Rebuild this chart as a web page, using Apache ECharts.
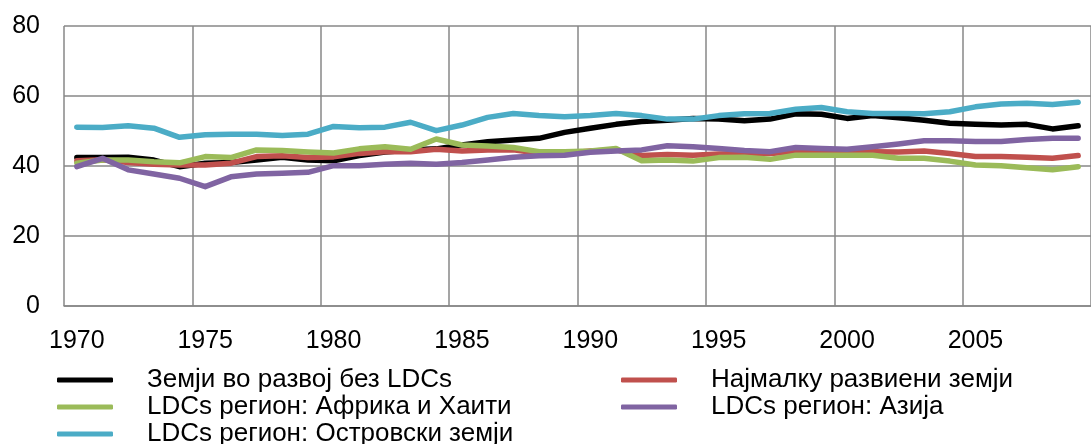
<!DOCTYPE html>
<html>
<head>
<meta charset="utf-8">
<script src="https://cdn.jsdelivr.net/npm/echarts@6/dist/echarts.min.js"></script>
<style>
  html, body { margin: 0; padding: 0; background: #fff; }
  #chart { width: 1091px; height: 444px; }
</style>
</head>
<body>
<div id="chart"></div>
<script>
var years = [];
for (var y = 1970; y <= 2009; y++) years.push(String(y));

var developingNoLdc = [42.4, 42.4, 42.5, 41.7, 39.8, 40.8, 41.0, 41.7, 42.5, 41.7,
  41.5, 43.0, 44.0, 44.6, 44.9, 46.0, 46.9, 47.4, 47.9, 49.6,
  50.8, 51.9, 52.7, 53.1, 53.6, 53.4, 52.9, 53.4, 54.9, 54.8,
  53.6, 54.4, 53.8, 53.1, 52.2, 51.9, 51.7, 51.9, 50.6, 51.5];
var ldc = [41.5, 41.8, 41.0, 40.5, 40.3, 40.3, 40.8, 42.7, 42.9, 42.4,
  42.6, 43.6, 44.1, 44.1, 44.8, 44.3, 44.6, 44.6, 43.6, 43.6,
  44.3, 44.6, 43.0, 43.3, 43.1, 43.4, 43.6, 43.6, 44.1, 44.0,
  44.0, 44.1, 44.0, 44.3, 43.6, 42.7, 42.7, 42.5, 42.2, 43.0];
var ldcAfrica = [40.8, 41.7, 41.7, 41.2, 40.9, 42.7, 42.4, 44.6, 44.4, 44.0,
  43.7, 44.9, 45.5, 44.8, 47.7, 46.0, 45.7, 45.3, 44.1, 44.1,
  44.3, 45.0, 41.5, 41.7, 41.4, 42.4, 42.5, 41.9, 43.1, 43.1,
  43.1, 43.1, 42.2, 42.2, 41.4, 40.3, 40.1, 39.5, 38.9, 39.8];
var ldcAsia = [39.8, 42.2, 38.9, 37.7, 36.5, 34.1, 36.9, 37.7, 37.9, 38.2,
  40.1, 40.1, 40.5, 40.8, 40.5, 41.0, 41.7, 42.5, 42.9, 43.1,
  43.9, 44.3, 44.6, 45.8, 45.5, 45.0, 44.4, 44.1, 45.3, 45.0,
  44.8, 45.5, 46.3, 47.2, 47.2, 47.0, 47.0, 47.6, 47.9, 47.9];
var ldcIslands = [51.1, 51.0, 51.5, 50.8, 48.2, 48.9, 49.1, 49.1, 48.7, 49.1,
  51.3, 50.9, 51.1, 52.5, 50.1, 51.7, 53.9, 55.0, 54.4, 54.1,
  54.4, 55.0, 54.4, 53.4, 53.4, 54.4, 54.9, 55.0, 56.2, 56.7,
  55.5, 55.0, 55.0, 54.9, 55.5, 56.9, 57.7, 57.9, 57.6, 58.2];

var names = ['Земји во развој без LDCs', 'Најмалку развиени земји',
  'LDCs регион: Африка и Хаити', 'LDCs регион: Азија', 'LDCs регион: Островски земји'];
var colors = ['#000000', '#C0504D', '#9BBB59', '#8064A2', '#4BACC6'];
var values = [developingNoLdc, ldc, ldcAfrica, ldcAsia, ldcIslands];

var font = "'Liberation Sans', Arial, sans-serif";
var gridColor = '#878787';

var legendBase = {
  orient: 'vertical',
  icon: 'roundRect',
  itemWidth: 56,
  itemHeight: 5,
  itemGap: 1,
  top: 367,
  height: 100,
  padding: 0,
  selectedMode: false,
  textStyle: { fontFamily: font, fontSize: 26, color: '#000', lineHeight: 26, padding: [0, 0, 0, 29] }
};

var option = {
  animation: false,
  color: colors,
  grid: { left: 64, top: 26, width: 1040, height: 280, containLabel: false },
  legend: [
    Object.assign({}, legendBase, { left: 57, data: [names[0], names[2], names[4]] }),
    Object.assign({}, legendBase, { left: 621, data: [names[1], names[3]] })
  ],
  xAxis: {
    type: 'category',
    data: years,
    boundaryGap: true,
    axisLine: { lineStyle: { color: gridColor, width: 1.5 } },
    axisTick: { show: false },
    axisLabel: { interval: 4, margin: 23, fontFamily: font, fontSize: 25, color: '#000' },
    splitLine: { show: true, interval: 4, lineStyle: { color: gridColor, width: 1.5 } }
  },
  yAxis: {
    type: 'value',
    min: 0,
    max: 80,
    interval: 20,
    axisLine: { show: false },
    axisTick: { show: false },
    axisLabel: { margin: 24, fontFamily: font, fontSize: 25, color: '#000' },
    splitLine: { lineStyle: { color: gridColor, width: 1.5 } }
  },
  series: values.map(function (v, i) {
    return {
      name: names[i],
      type: 'line',
      data: v,
      showSymbol: false,
      symbol: 'none',
      lineStyle: { width: 5.5, color: colors[i], cap: 'round', join: 'round' },
      itemStyle: { color: colors[i] }
    };
  })
};

var myChart = echarts.init(document.getElementById('chart'));
myChart.setOption(option);
</script>
</body>
</html>
